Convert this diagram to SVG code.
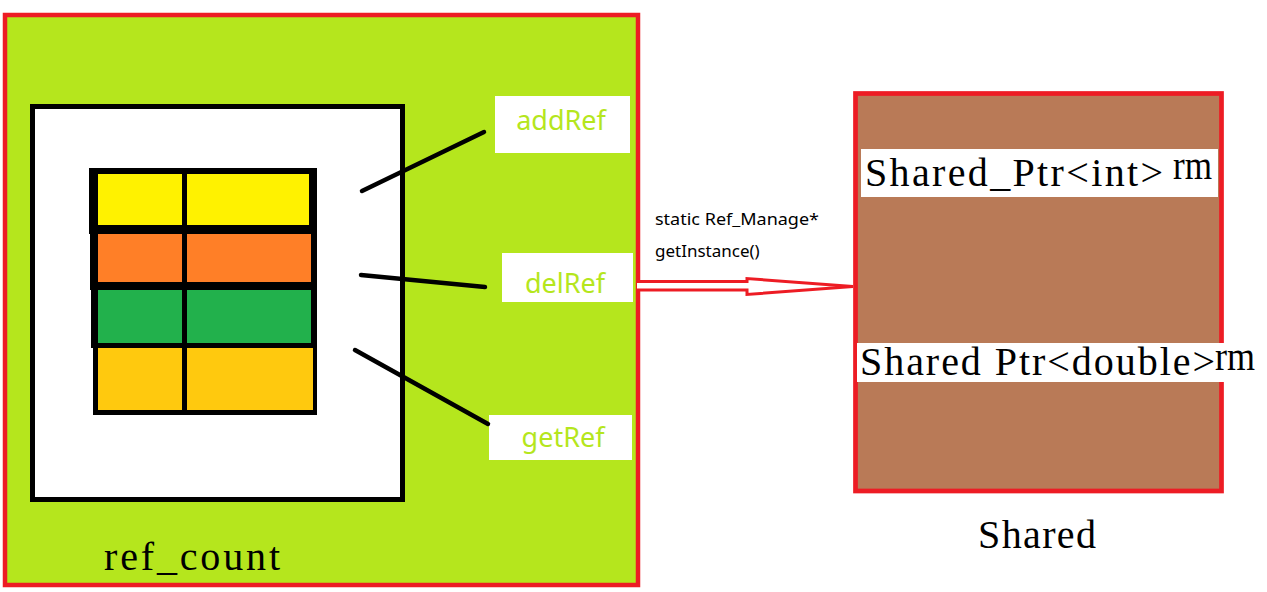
<svg xmlns="http://www.w3.org/2000/svg" width="1267" height="592" viewBox="0 0 1267 592">
<style>
.serif{font-family:"Liberation Serif","DejaVu Serif",serif;font-size:40px;fill:#000}
.lbl{font-family:"Noto Sans","Open Sans",sans-serif;font-size:27px;fill:#B5E61D;text-anchor:middle}
.note{font-family:"Noto Sans","Open Sans",sans-serif;font-size:17px;fill:#000}
.blk{stroke:#000;stroke-width:4.5;stroke-linecap:round;fill:none}
</style>
<rect width="1267" height="592" fill="#fff"/>
<g id="ref_count">
<rect x="5" y="15" width="633" height="570" fill="#B5E61D" stroke="#ED1C24" stroke-width="4.5"/>
<rect x="32.5" y="106.5" width="370" height="393" fill="#fff" stroke="#000" stroke-width="5"/>
<g id="table">
<rect x="89" y="168" width="228" height="66" fill="#000"/>
<rect x="90" y="230" width="227" height="60" fill="#000"/>
<rect x="91" y="286" width="226" height="62" fill="#000"/>
<rect x="93" y="344" width="224" height="71" fill="#000"/>
<rect x="98" y="174" width="84" height="51" fill="#FFF200"/>
<rect x="187" y="174" width="122" height="51" fill="#FFF200"/>
<rect x="98" y="234" width="84" height="48" fill="#FF7F27"/>
<rect x="187" y="234" width="124" height="48" fill="#FF7F27"/>
<rect x="98" y="290" width="84" height="53" fill="#22B14C"/>
<rect x="187" y="290" width="124" height="53" fill="#22B14C"/>
<rect x="98" y="348" width="84" height="62" fill="#FFC90E"/>
<rect x="187" y="348" width="126" height="62" fill="#FFC90E"/>
</g>
<text class="serif" x="104" y="570" textLength="176" lengthAdjust="spacing">ref_count</text>
</g>
<g id="addRef">
<rect x="495" y="96" width="135" height="57" fill="#fff"/>
<text class="lbl" x="561" y="130">addRef</text>
</g>
<g id="delRef">
<rect x="502" y="253" width="131" height="49" fill="#fff"/>
<text class="lbl" x="565" y="293">delRef</text>
</g>
<g id="getRef">
<rect x="489" y="415" width="143" height="45" fill="#fff"/>
<text class="lbl" x="563" y="447">getRef</text>
</g>
<g id="shared">
<rect x="855.5" y="93.5" width="366" height="397.5" fill="#B97A57" stroke="#ED1C24" stroke-width="4.7"/>
<rect x="861" y="149" width="357" height="48" fill="#fff"/>
<text class="serif" x="865" y="186" textLength="298" lengthAdjust="spacing">Shared_Ptr&lt;int&gt;</text>
<text class="serif" x="1173" y="179" textLength="39" lengthAdjust="spacingAndGlyphs">rm</text>
<rect x="857" y="343" width="367" height="39" fill="#fff"/>
<text class="serif" x="860" y="375" textLength="355" lengthAdjust="spacing">Shared Ptr&lt;double&gt;</text>
<text class="serif" x="1215" y="370" textLength="40" lengthAdjust="spacingAndGlyphs">rm</text>
<text class="serif" x="978" y="548" textLength="118" lengthAdjust="spacing">Shared</text>
</g>
<g id="connectors">
<line class="blk" x1="362" y1="191" x2="484" y2="132"/>
<line class="blk" x1="361" y1="275" x2="485" y2="287"/>
<line class="blk" x1="355" y1="350" x2="488" y2="424"/>
<path d="M637 281.5 L747 281.5 L747 278.5 L853 286.5 L747 294.5 L747 290 L637 290" fill="#fff" stroke="#ED1C24" stroke-width="3"/>
<text class="note" x="655" y="225" textLength="164" lengthAdjust="spacingAndGlyphs">static Ref_Manage*</text>
<text class="note" x="655" y="257">getInstance()</text>
</g>
</svg>
